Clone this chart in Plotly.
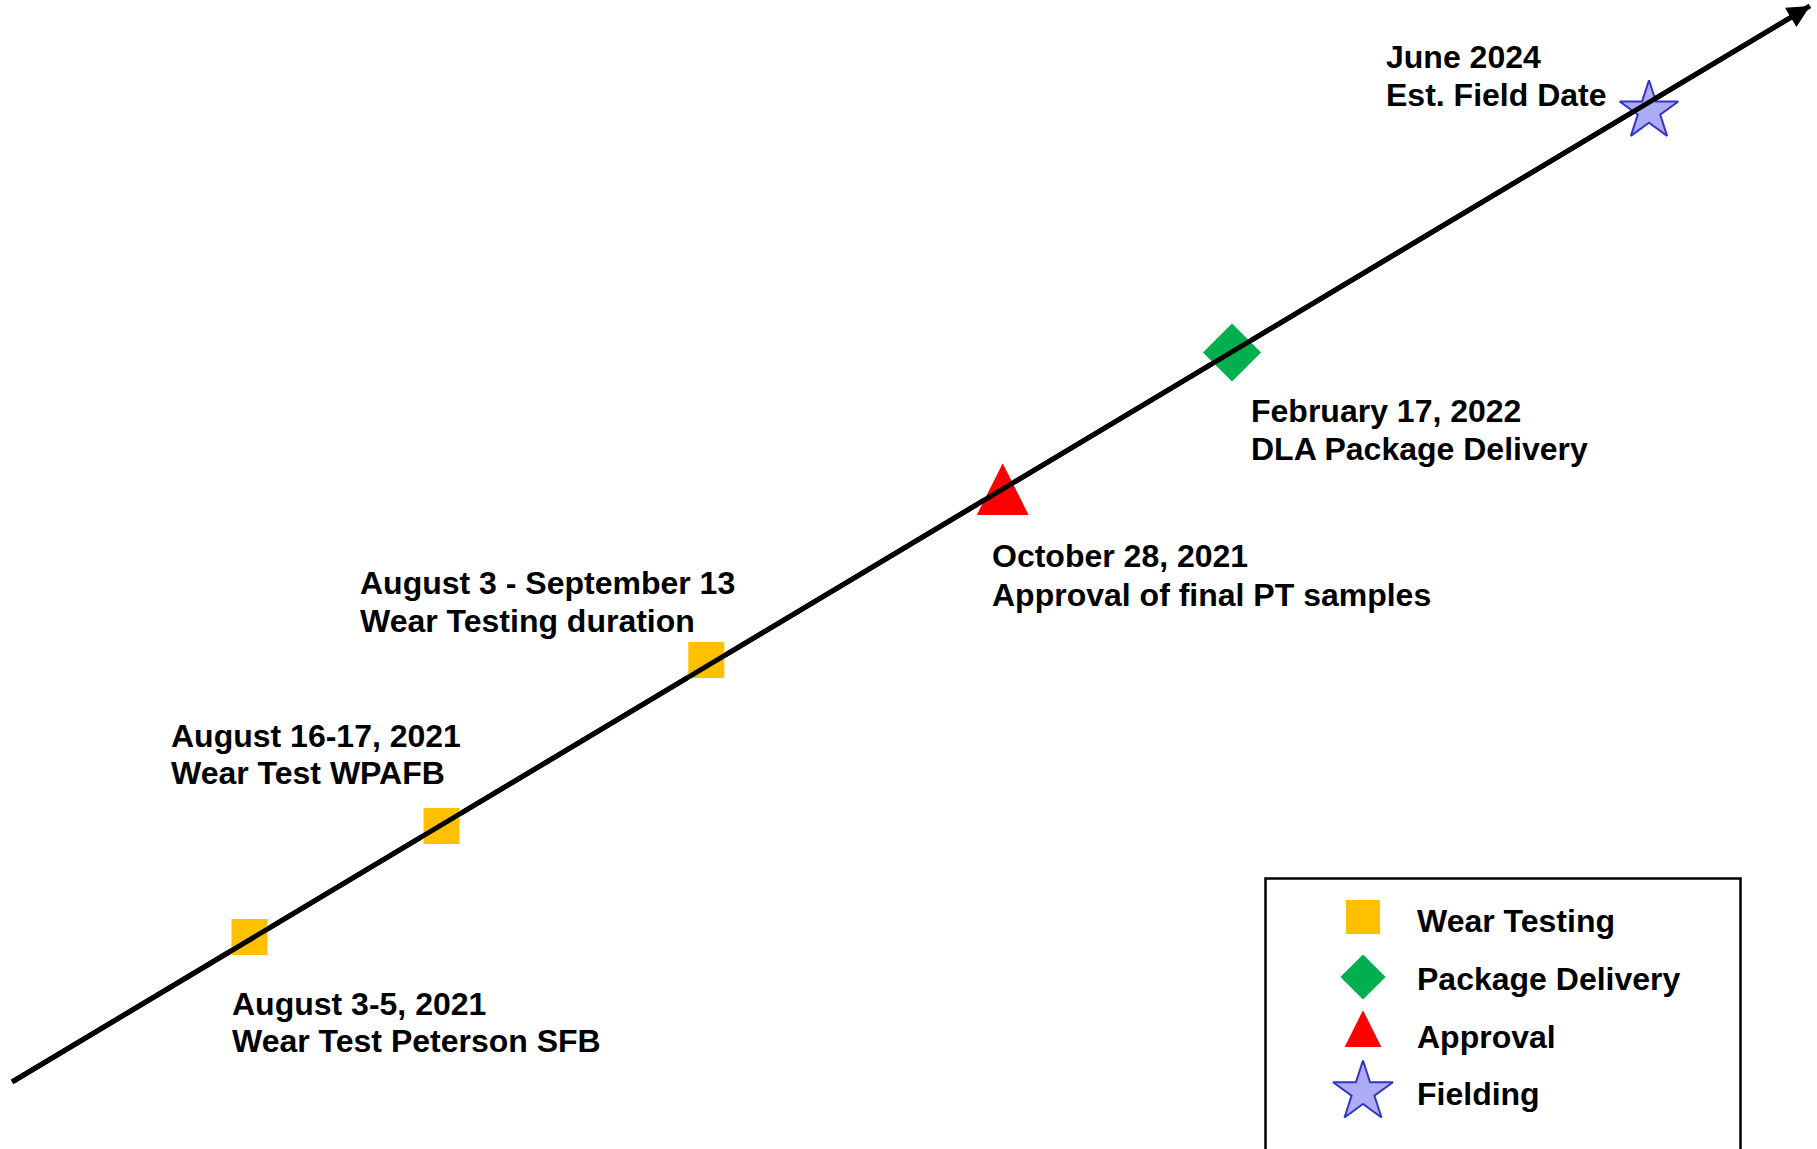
import plotly.graph_objects as go

W, H = 1817, 1149
FONT = "Liberation Sans, Arial, Helvetica, sans-serif"
FS = 32

# ---- timeline axis (units = pixels of the reference, y grows downward) ----
axis_x = [12, 1810]
axis_y = [1082, 5.9]

# ---- milestone markers ----
event_x = [249.5, 441.5, 706.3, 1002.7, 1232, 1649]
event_y = [937, 826, 660, 461, 352.5, 111]
event_symbol = ["square", "square", "square", "arrow-up", "diamond", "star"]
event_color = ["#FFC000", "#FFC000", "#FFC000", "#FF0000", "#00B050", "#ADADF7"]
event_size = [38, 38, 38, 55, 47, 44]
event_line_color = ["#FFFFFF", "#FFFFFF", "#FFFFFF", "#FFFFFF", "#FFFFFF", "#3535C4"]

# ---- milestone labels ----
label_line1 = ["August 3-5, 2021", "August 16-17, 2021", "August 3 - September 13",
               "October 28, 2021", "February 17, 2022", "June 2024"]
label_line2 = ["Wear Test Peterson SFB", "Wear Test WPAFB", "Wear Testing duration",
               "Approval of final PT samples", "DLA Package Delivery", "Est. Field Date"]
label_x = [231, 169.5, 359, 990.5, 1249.5, 1384.5]
label_y1 = [1003.5, 735.5, 583, 556, 410.5, 57]
label_y2 = [1041, 773, 621, 594.5, 448.5, 95]

# ---- legend ----
legend_labels = ["Wear Testing", "Package Delivery", "Approval", "Fielding"]
legend_symbols = ["square", "diamond", "arrow-up", "star"]
legend_colors = ["#FFC000", "#00B050", "#FF0000", "#ADADF7"]
legend_line_colors = ["#FFFFFF", "#FFFFFF", "#FFFFFF", "#3535C4"]
legend_sizes = [36, 37, 40, 45]
legend_marker_x = [1363, 1363, 1363, 1363]
legend_marker_y = [917, 977, 1008, 1092]
legend_text_x = 1415.5
legend_text_y = [921, 979, 1037, 1094]
legend_box = [1265.5, 878.5, 1740.5, 1175]

fig = go.Figure()

# timeline line
fig.add_trace(go.Scatter(
    x=axis_x, y=axis_y, mode="lines",
    line=dict(color="black", width=5),
    hoverinfo="skip", showlegend=False,
))

# milestone markers
fig.add_trace(go.Scatter(
    x=event_x, y=event_y, mode="markers",
    marker=dict(symbol=event_symbol, color=event_color, size=event_size, opacity=1,
                line=dict(color=event_line_color, width=2)),
    hoverinfo="skip", showlegend=False,
))

# legend markers
fig.add_trace(go.Scatter(
    x=legend_marker_x, y=legend_marker_y, mode="markers",
    marker=dict(symbol=legend_symbols, color=legend_colors, size=legend_sizes, opacity=1,
                line=dict(color=legend_line_colors, width=2)),
    hoverinfo="skip", showlegend=False,
))

annotations = []
# arrow head at the end of the timeline
annotations.append(dict(
    x=axis_x[1], y=axis_y[1], ax=axis_x[0], ay=axis_y[0],
    xref="x", yref="y", axref="x", ayref="y",
    text="", showarrow=True, arrowhead=2, arrowsize=0.9,
    arrowwidth=5, arrowcolor="black", standoff=0, startstandoff=0,
))

for t1, t2, lx, y1, y2 in zip(label_line1, label_line2, label_x, label_y1, label_y2):
    for t, yy in ((t1, y1), (t2, y2)):
        annotations.append(dict(
            x=lx, y=yy, xref="x", yref="y", text=t, showarrow=False,
            xanchor="left", yanchor="middle", borderpad=0,
            font=dict(family=FONT, size=FS, color="black", weight="bold"),
        ))

for t, yy in zip(legend_labels, legend_text_y):
    annotations.append(dict(
        x=legend_text_x, y=yy, xref="x", yref="y", text=t, showarrow=False,
        xanchor="left", yanchor="middle", borderpad=0,
        font=dict(family=FONT, size=FS, color="black", weight="bold"),
    ))

fig.update_layout(
    width=W, height=H,
    margin=dict(l=0, r=0, t=0, b=0),
    paper_bgcolor="white", plot_bgcolor="white",
    xaxis=dict(range=[0, W], visible=False, fixedrange=True),
    yaxis=dict(range=[H, 0], visible=False, fixedrange=True),
    annotations=annotations,
    shapes=[dict(type="rect", xref="x", yref="y",
                 x0=legend_box[0], y0=legend_box[1], x1=legend_box[2], y1=legend_box[3],
                 line=dict(color="black", width=2.5), fillcolor="rgba(0,0,0,0)",
                 layer="below")],
    showlegend=False,
)

fig.write_html(
    "out.html",
    config={"displayModeBar": False},
    post_script="document.body.style.margin='0';document.body.style.overflow='hidden';",
)
